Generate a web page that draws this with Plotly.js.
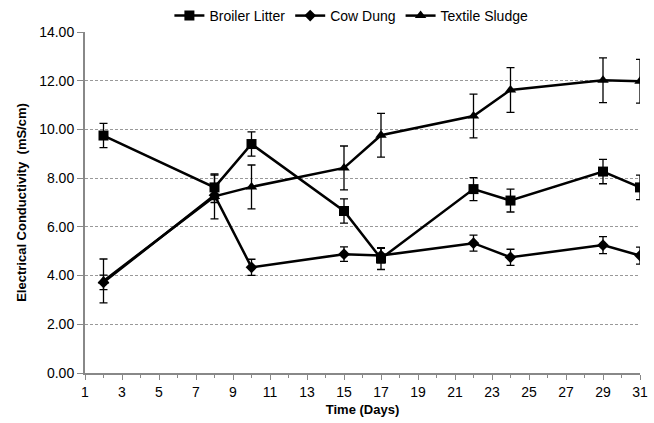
<!DOCTYPE html>
<html>
<head>
<meta charset="utf-8">
<script src="https://cdn.plot.ly/plotly-3.0.1.min.js"></script>
<style>html,body{margin:0;padding:0;background:#fff;}#chart{width:654px;height:423px;}</style>
</head>
<body>
<div id="chart"></div>
<script>
const days = [2, 8, 10, 15, 17, 22, 24, 29, 31];
const broilerLitter = [9.75, 7.62, 9.40, 6.65, 4.70, 7.55, 7.08, 8.27, 7.62];
const broilerErr = [0.5, 0.5, 0.5, 0.5, 0.45, 0.47, 0.47, 0.5, 0.5];
const cowDung = [3.72, 7.30, 4.34, 4.88, 4.82, 5.33, 4.75, 5.25, 4.82];
const cowErr = [0.3, 0.3, 0.33, 0.3, 0.3, 0.33, 0.33, 0.35, 0.35];
const textileSludge = [3.78, 7.25, 7.64, 8.42, 9.76, 10.55, 11.62, 12.02, 11.98];
const textileErr = [0.9, 0.92, 0.9, 0.9, 0.9, 0.9, 0.92, 0.92, 0.9];
const seriesNames = ['Broiler Litter', 'Cow Dung', 'Textile Sludge'];

function mk(name, y, err, symbol, size) {
  return {
    x: days, y: y, name: name, type: 'scatter', mode: 'lines+markers',
    line: {color: '#000', width: 2.5},
    marker: {symbol: symbol, size: size, color: '#000'},
    error_y: {type: 'data', array: err, visible: true, color: '#000', thickness: 1.3, width: 4}
  };
}
const data = [
  mk(seriesNames[0], broilerLitter, broilerErr, 'square', 10),
  mk(seriesNames[1], cowDung, cowErr, 'diamond', 9),
  mk(seriesNames[2], textileSludge, textileErr, 'triangle-up', 10)
];
const layout = {
  width: 654, height: 423,
  margin: {l: 85, r: 14, t: 32, b: 50},
  paper_bgcolor: '#fff', plot_bgcolor: '#fff',
  font: {family: 'Liberation Sans, Arial, sans-serif', size: 14, color: '#000'},
  showlegend: true,
  legend: {orientation: 'h', x: 0.48, xanchor: 'center', xref: 'paper',
           y: 1.0, yanchor: 'top', yref: 'container',
           font: {size: 14}, itemwidth: 30, tracegroupgap: 0, bgcolor: 'rgba(0,0,0,0)'},
  xaxis: {
    range: [1, 31], tick0: 1, dtick: 2, tickmode: 'linear',
    showgrid: false, zeroline: false,
    showline: true, linecolor: '#888', linewidth: 2,
    ticks: 'outside', ticklen: 5, tickcolor: '#888', tickwidth: 1,
    minor: {dtick: 1, tick0: 1, ticks: 'outside', ticklen: 3, tickcolor: '#888', showgrid: false},
    title: {text: '<b>Time (Days)</b>', font: {size: 13}, standoff: 6}
  },
  yaxis: {
    range: [0, 14], dtick: 2, tick0: 0, tickformat: '.2f',
    showgrid: true, gridcolor: '#999', griddash: '3px,2px', gridwidth: 1,
    zeroline: false,
    showline: true, linecolor: '#888', linewidth: 2,
    ticks: 'outside', ticklen: 6, tickcolor: '#888',
    title: {text: '<b>Electrical Conductivity  (mS/cm)</b>', font: {size: 13}, standoff: 10}
  }
};
Plotly.newPlot('chart', data, layout, {displayModeBar: false, staticPlot: true});
</script>
</body>
</html>
